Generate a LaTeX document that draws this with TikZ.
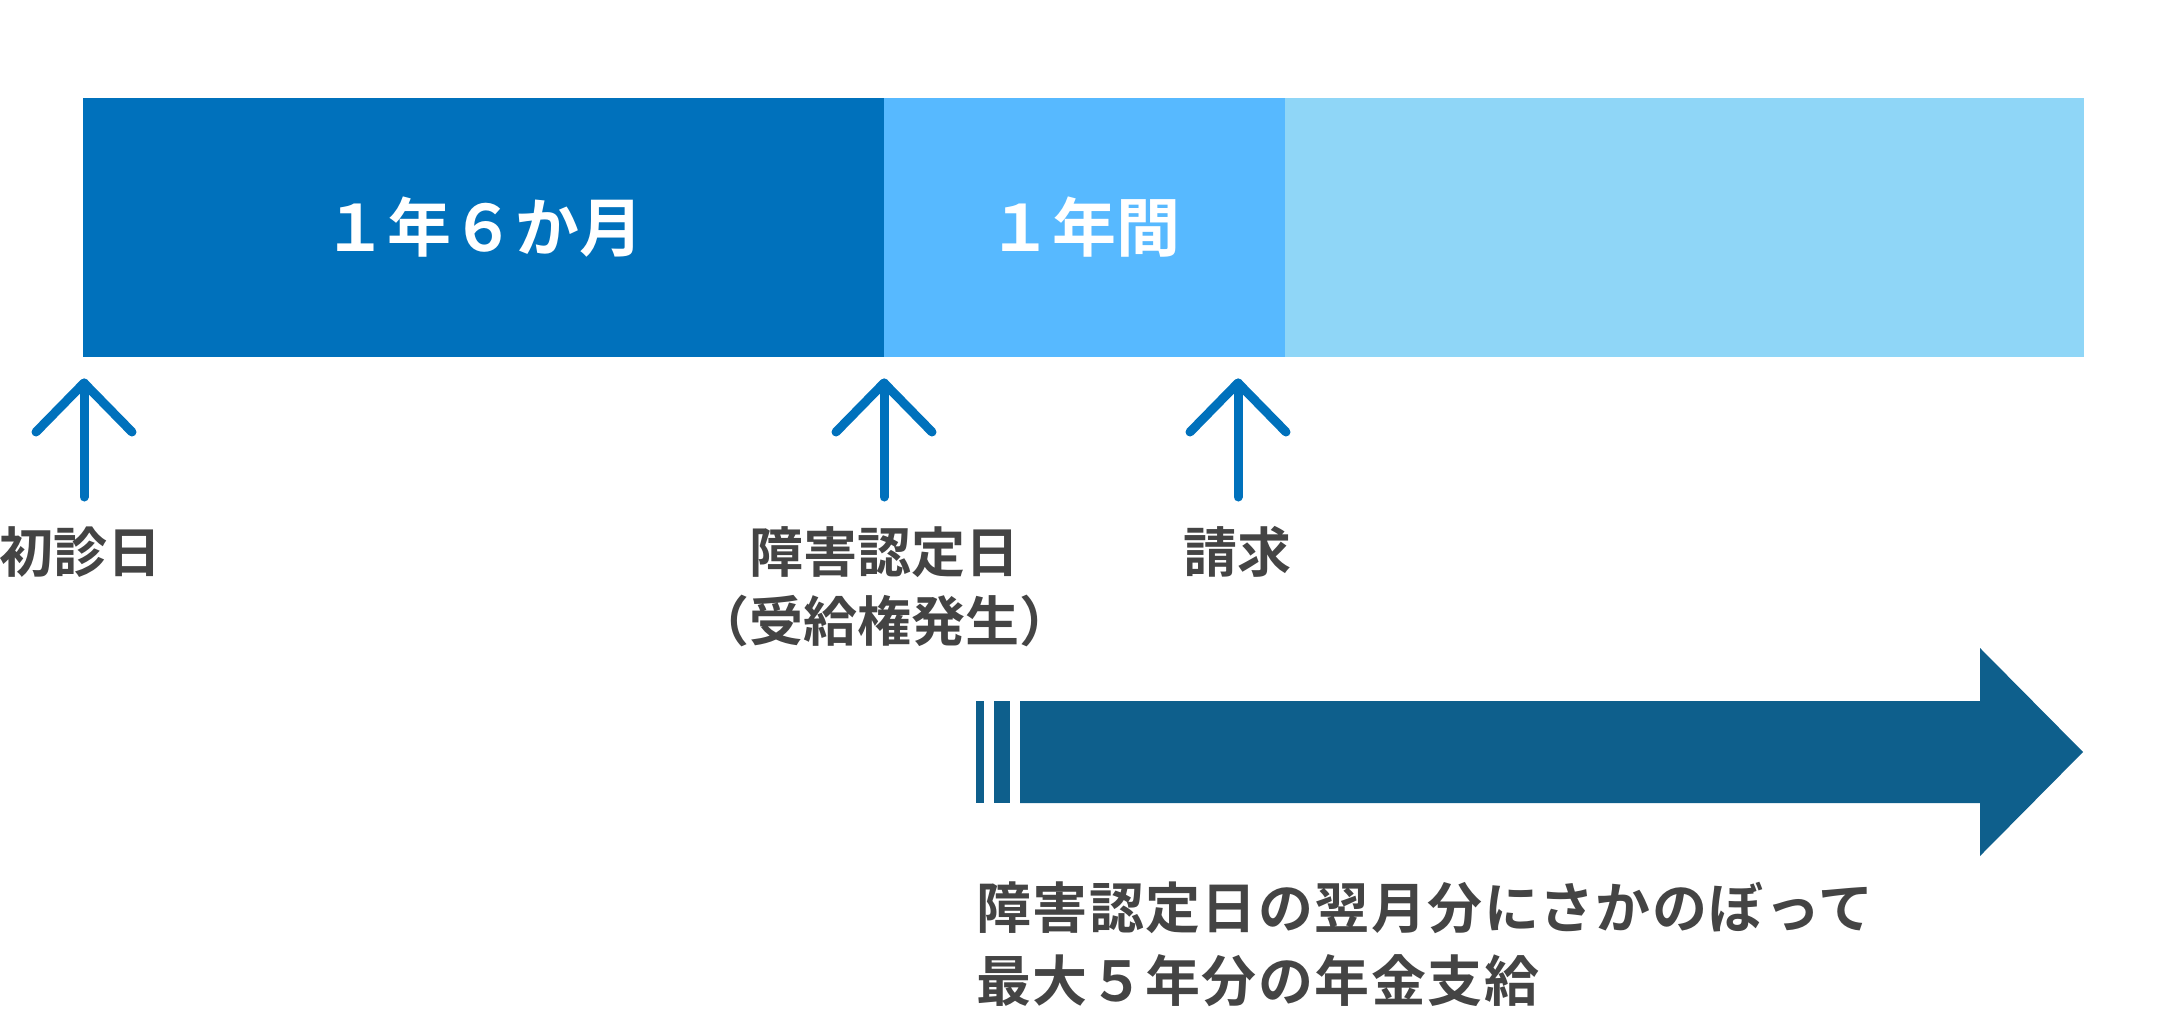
\documentclass[tikz,border=0pt]{standalone}
\usepackage{fontspec}
\setmainfont{Noto Sans CJK JP}[BoldFont={Noto Sans CJK JP Bold}]
\usepackage{tikz}

\definecolor{spanA}{HTML}{0071BC}
\definecolor{spanB}{HTML}{57B9FF}
\definecolor{spanC}{HTML}{8FD6F7}
\definecolor{flowblue}{HTML}{0E5F8C}
\definecolor{textgray}{HTML}{444444}

\begin{document}
\begin{tikzpicture}[x=1pt,y=-1pt,
	span/.style={anchor=north west,minimum height=259pt,inner sep=0pt,outer sep=0pt,text=white,font=\fontsize{64}{64}\selectfont\bfseries},
	lab/.style={text=textgray,align=center,inner sep=0pt,font=\fontsize{54}{69}\selectfont\bfseries},
	tick/.style={line width=9pt,line cap=round,line join=round,draw=spanA}]

	\useasboundingbox (0,0) rectangle (2168,1020);

	\node[span,fill=spanA,minimum width=801pt] (span1) at (83,98) {１年６か月};
	\node[span,fill=spanB,minimum width=401pt] (span2) at (span1.north east) {１年間};
	\node[span,fill=spanC,minimum width=799pt] (span3) at (span2.north east) {};

	\coordinate (tip1) at (84,383);
	\coordinate (tip2) at (884,383);
	\coordinate (tip3) at (1238,383);

	\foreach \i in {1,2,3} {
		\draw[tick] (tip\i) -- ++(0,114);
		\draw[tick] ([xshift=-48pt,yshift=-49pt]tip\i) -- (tip\i) -- ([xshift=48pt,yshift=-49pt]tip\i);
	}

	\node[lab] (first) at (80,552) {初診日};
	\node[lab] (nintei) at (884,587) {障害認定日\\（受給権発生）};
	\node[lab] (seikyu) at (1237,552) {請求};

	\fill[flowblue] (976,701) rectangle (984,803);
	\fill[flowblue] (994,701) rectangle (1010,803);
	\fill[flowblue] (1020,701) -- (1980,701) -- (1980,648) -- (2083,752) -- (1980,856) -- (1980,803) -- (1020,803) -- cycle;

	\node[lab,anchor=west,align=left,font=\fontsize{55}{73}\selectfont\bfseries\addfontfeatures{LetterSpace=2.6}] (payout) at (976,944) {障害認定日の翌月分にさかのぼって\\最大５年分の年金支給};

\end{tikzpicture}
\end{document}
